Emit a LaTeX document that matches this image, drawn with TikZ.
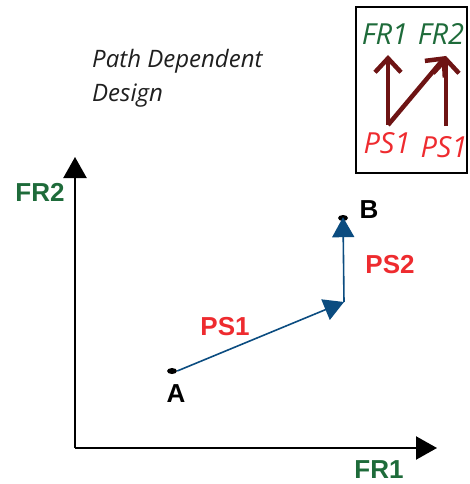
\documentclass[tikz,border=0pt]{standalone}
\usepackage{fontspec}
\setmainfont{Liberation Sans}
\newfontfamily\segoe{Open Sans}
\usetikzlibrary{arrows.meta,shapes.geometric}
\definecolor{frgreen}{HTML}{1E6B3A}
\definecolor{psred}{HTML}{EE2B2F}
\definecolor{pathblue}{HTML}{0B4C80}
\definecolor{darkred}{HTML}{6E1414}
\tikzset{
  axis/.style={line width=2.2pt,-{Triangle[length=21pt,width=23pt]}},
  pathseg/.style={draw=pathblue,line width=1.6pt,-{Triangle[length=20pt,width=22pt]}},
  mainlbl/.style={font=\fontsize{26}{28}\selectfont\bfseries,inner sep=0pt},
  smalllbl/.style={font=\segoe\fontsize{29}{31}\selectfont\itshape,inner sep=0pt},
  inarrow/.style={draw=darkred,line width=4.5pt,-{Straight Barb[length=14pt,width=26pt,line width=4.5pt]}},
  dot/.style={ellipse,fill=black,minimum width=10pt,minimum height=6pt,inner sep=0pt}
}
\begin{document}
\begin{tikzpicture}[x=1pt,y=-1pt]
\useasboundingbox (0,0) rectangle (470,484);
% axes
\coordinate (O) at (75,448);
\coordinate (Ytip) at (75,157);
\coordinate (Xtip) at (437,448);
\draw[axis] (O) -- (Ytip);
\draw[axis] (O) -- (Xtip);
\node[mainlbl,text=frgreen] (fr2) at (40,192) {FR2};
\node[mainlbl,text=frgreen] (fr1) at (379,470) {FR1};
% title
\node[font=\segoe\fontsize{24}{34}\selectfont\itshape,text=black!88,align=left,anchor=north west,inner sep=0pt] (title) at (92,49) {Path Dependent\\Design};
% path
\node[dot] (A) at (172,371) {};
\node[dot] (B) at (343,218) {};
\coordinate (C) at (344,302);
\draw[pathseg] (A.east) -- (C);
\draw[pathseg] (C) -- ([yshift=4pt]B.south);
\node[mainlbl] (lA) at (176,394) {A};
\node[mainlbl] (lB) at (369,210) {B};
\node[mainlbl,text=psred] (ps1) at (225,327) {PS1};
\node[mainlbl,text=psred] (ps2) at (390,265) {PS2};
% inset
\node[draw=black,line width=1.8pt,minimum width=111pt,minimum height=166pt,inner sep=0pt] (box) at (411.5,90) {};
\node[smalllbl,text=frgreen] (ifr1) at (385,34) {FR1};
\node[smalllbl,text=frgreen] (ifr2) at (441,34) {FR2};
\node[smalllbl,text=psred] (ips1) at (387,143) {PS1};
\node[smalllbl,text=psred] (ips2) at (444,147) {PS1};
\coordinate (s1) at (388,125);
\coordinate (t1) at (388,55);
\coordinate (s2) at (446,126);
\coordinate (t2) at (446,56);
\draw[inarrow] (s1) -- (t1);
\draw[inarrow] (s1) -- (t2);
\draw[inarrow] (s2) -- (t2);
\end{tikzpicture}
\end{document}
